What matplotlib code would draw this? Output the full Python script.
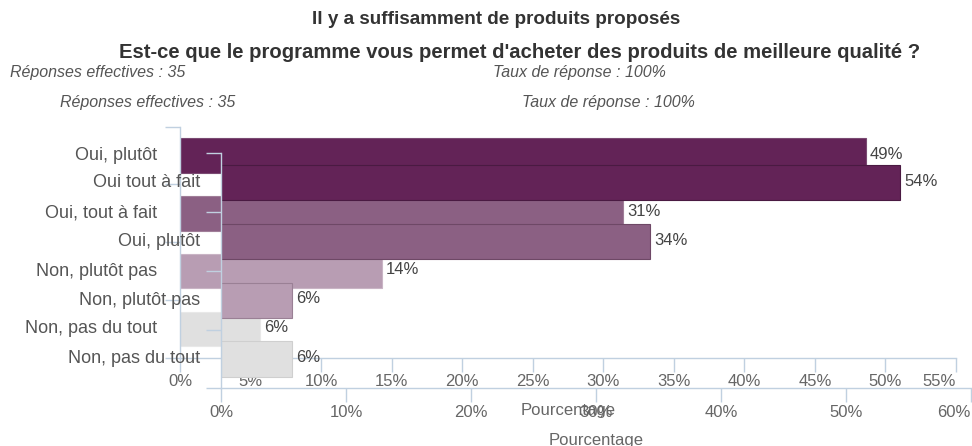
import matplotlib
matplotlib.use("Agg")
import matplotlib.pyplot as plt
import numpy as np

plt.rcParams['font.family'] = ['Liberation Sans', 'DejaVu Sans']

# ---- Data (bar lengths; labels shown rounded) ----
title_a = "Il y a suffisamment de produits proposés"
cats_a = ["Oui, plutôt", "Oui, tout à fait", "Non, plutôt pas", "Non, pas du tout"]
vals_a = [48.6, 31.4, 14.3, 5.7]

title_b = "Est-ce que le programme vous permet d'acheter des produits de meilleure qualité ?"
cats_b = ["Oui tout à fait", "Oui, plutôt", "Non, plutôt pas", "Non, pas du tout"]
vals_b = [54.3, 34.3, 5.7, 5.7]

colors = ["#632357", "#8b6083", "#b89db3", "#e0e0e0"]
edge_a = ["#7a4a72", "#a07e98", "#c9b4c5", "#e8e8e8"]
edge_b = ["#4a1a42", "#6e4866", "#9a8095", "#cfcfcf"]

xmax_a = 55
xticks_a = np.arange(0, 56, 5)
xmax_b = 60
xticks_b = np.arange(0, 61, 10)

W, H = 972, 446
fig = plt.figure(figsize=(W / 100, H / 100), dpi=100)
PX = 72 / 100  # points per pixel

AXC = "#c0d0e0"
LBL = "#555555"
TCK = "#666666"


def px_axes(x0, x1, ytop, ybot, **kw):
    return fig.add_axes([x0 / W, (H - ybot) / H, (x1 - x0) / W, (ybot - ytop) / H], **kw)


def style(ax, cats, vals, xmax, xticks, edges, lab_pad, xlab_pad, title_pad):
    n = len(cats)
    y = np.arange(n)
    ax.barh(y, vals, height=0.6, color=colors, edgecolor=edges, linewidth=0.8, zorder=2)
    ax.set_xlim(0, xmax)
    ax.set_ylim(n - 0.5, -0.5)
    for s in ["top", "right"]:
        ax.spines[s].set_visible(False)
    for s in ["left", "bottom"]:
        ax.spines[s].set_color(AXC)
        ax.spines[s].set_linewidth(1.0)
    ax.set_yticks(y)
    ax.set_yticklabels(cats, fontsize=13, color=LBL)
    ax.set_yticks(np.arange(n + 1) - 0.5, minor=True)
    ax.tick_params(axis="y", which="major", length=0, pad=lab_pad)
    ax.tick_params(axis="y", which="minor", length=15 * PX, color=AXC, width=1.0, direction="out")
    ax.set_xticks(xticks)
    ax.set_xticklabels([f"{t}%" for t in xticks], fontsize=12, color=TCK)
    ax.get_xticklabels()[-1].set_ha("right")
    ax.tick_params(axis="x", length=14 * PX, color=AXC, width=1.0, pad=xlab_pad)
    ax.set_xlabel("Pourcentage", fontsize=12, color=TCK, labelpad=title_pad)
    for yi, v in zip(y, vals):
        ax.annotate(f"{v:.0f}%", xy=(v, yi), xytext=(3, 1), textcoords="offset points",
                    va="center", ha="left", fontsize=12, color="#444444", zorder=3)
    for lab in ax.get_yticklabels():
        lab.set_va("center")
        lab.set_y(lab.get_position()[1])


ax_a = px_axes(180, 956, 126.7, 357.7)
ax_a.set_facecolor("none")
style(ax_a, cats_a, vals_a, xmax_a, xticks_a, edge_a, 23 * PX, 2, 10)

ax_b = px_axes(221, 971, 153.3, 388.3)
ax_b.set_facecolor("none")
style(ax_b, cats_b, vals_b, xmax_b, xticks_b, edge_b, 21 * PX, 2, 9)

# titles and subtitles
fig.text(496 / W, 1 - 20 / H, title_a, ha="center", va="center", fontsize=13.6,
         fontweight="bold", color="#333333")
fig.text(520 / W, 1 - 52 / H, title_b, ha="center", va="center", fontsize=14.6,
         fontweight="bold", color="#333333")
fig.text(10 / W, 1 - 73 / H, "Réponses effectives : 35", ha="left", va="center",
         fontsize=11.5, style="italic", color="#555555")
fig.text(493 / W, 1 - 73 / H, "Taux de réponse : 100%", ha="left", va="center",
         fontsize=11.5, style="italic", color="#555555")
fig.text(60 / W, 1 - 103 / H, "Réponses effectives : 35", ha="left", va="center",
         fontsize=11.5, style="italic", color="#555555")
fig.text(522 / W, 1 - 103 / H, "Taux de réponse : 100%", ha="left", va="center",
         fontsize=11.5, style="italic", color="#555555")

fig.savefig("out.png", dpi=100, facecolor="white")
